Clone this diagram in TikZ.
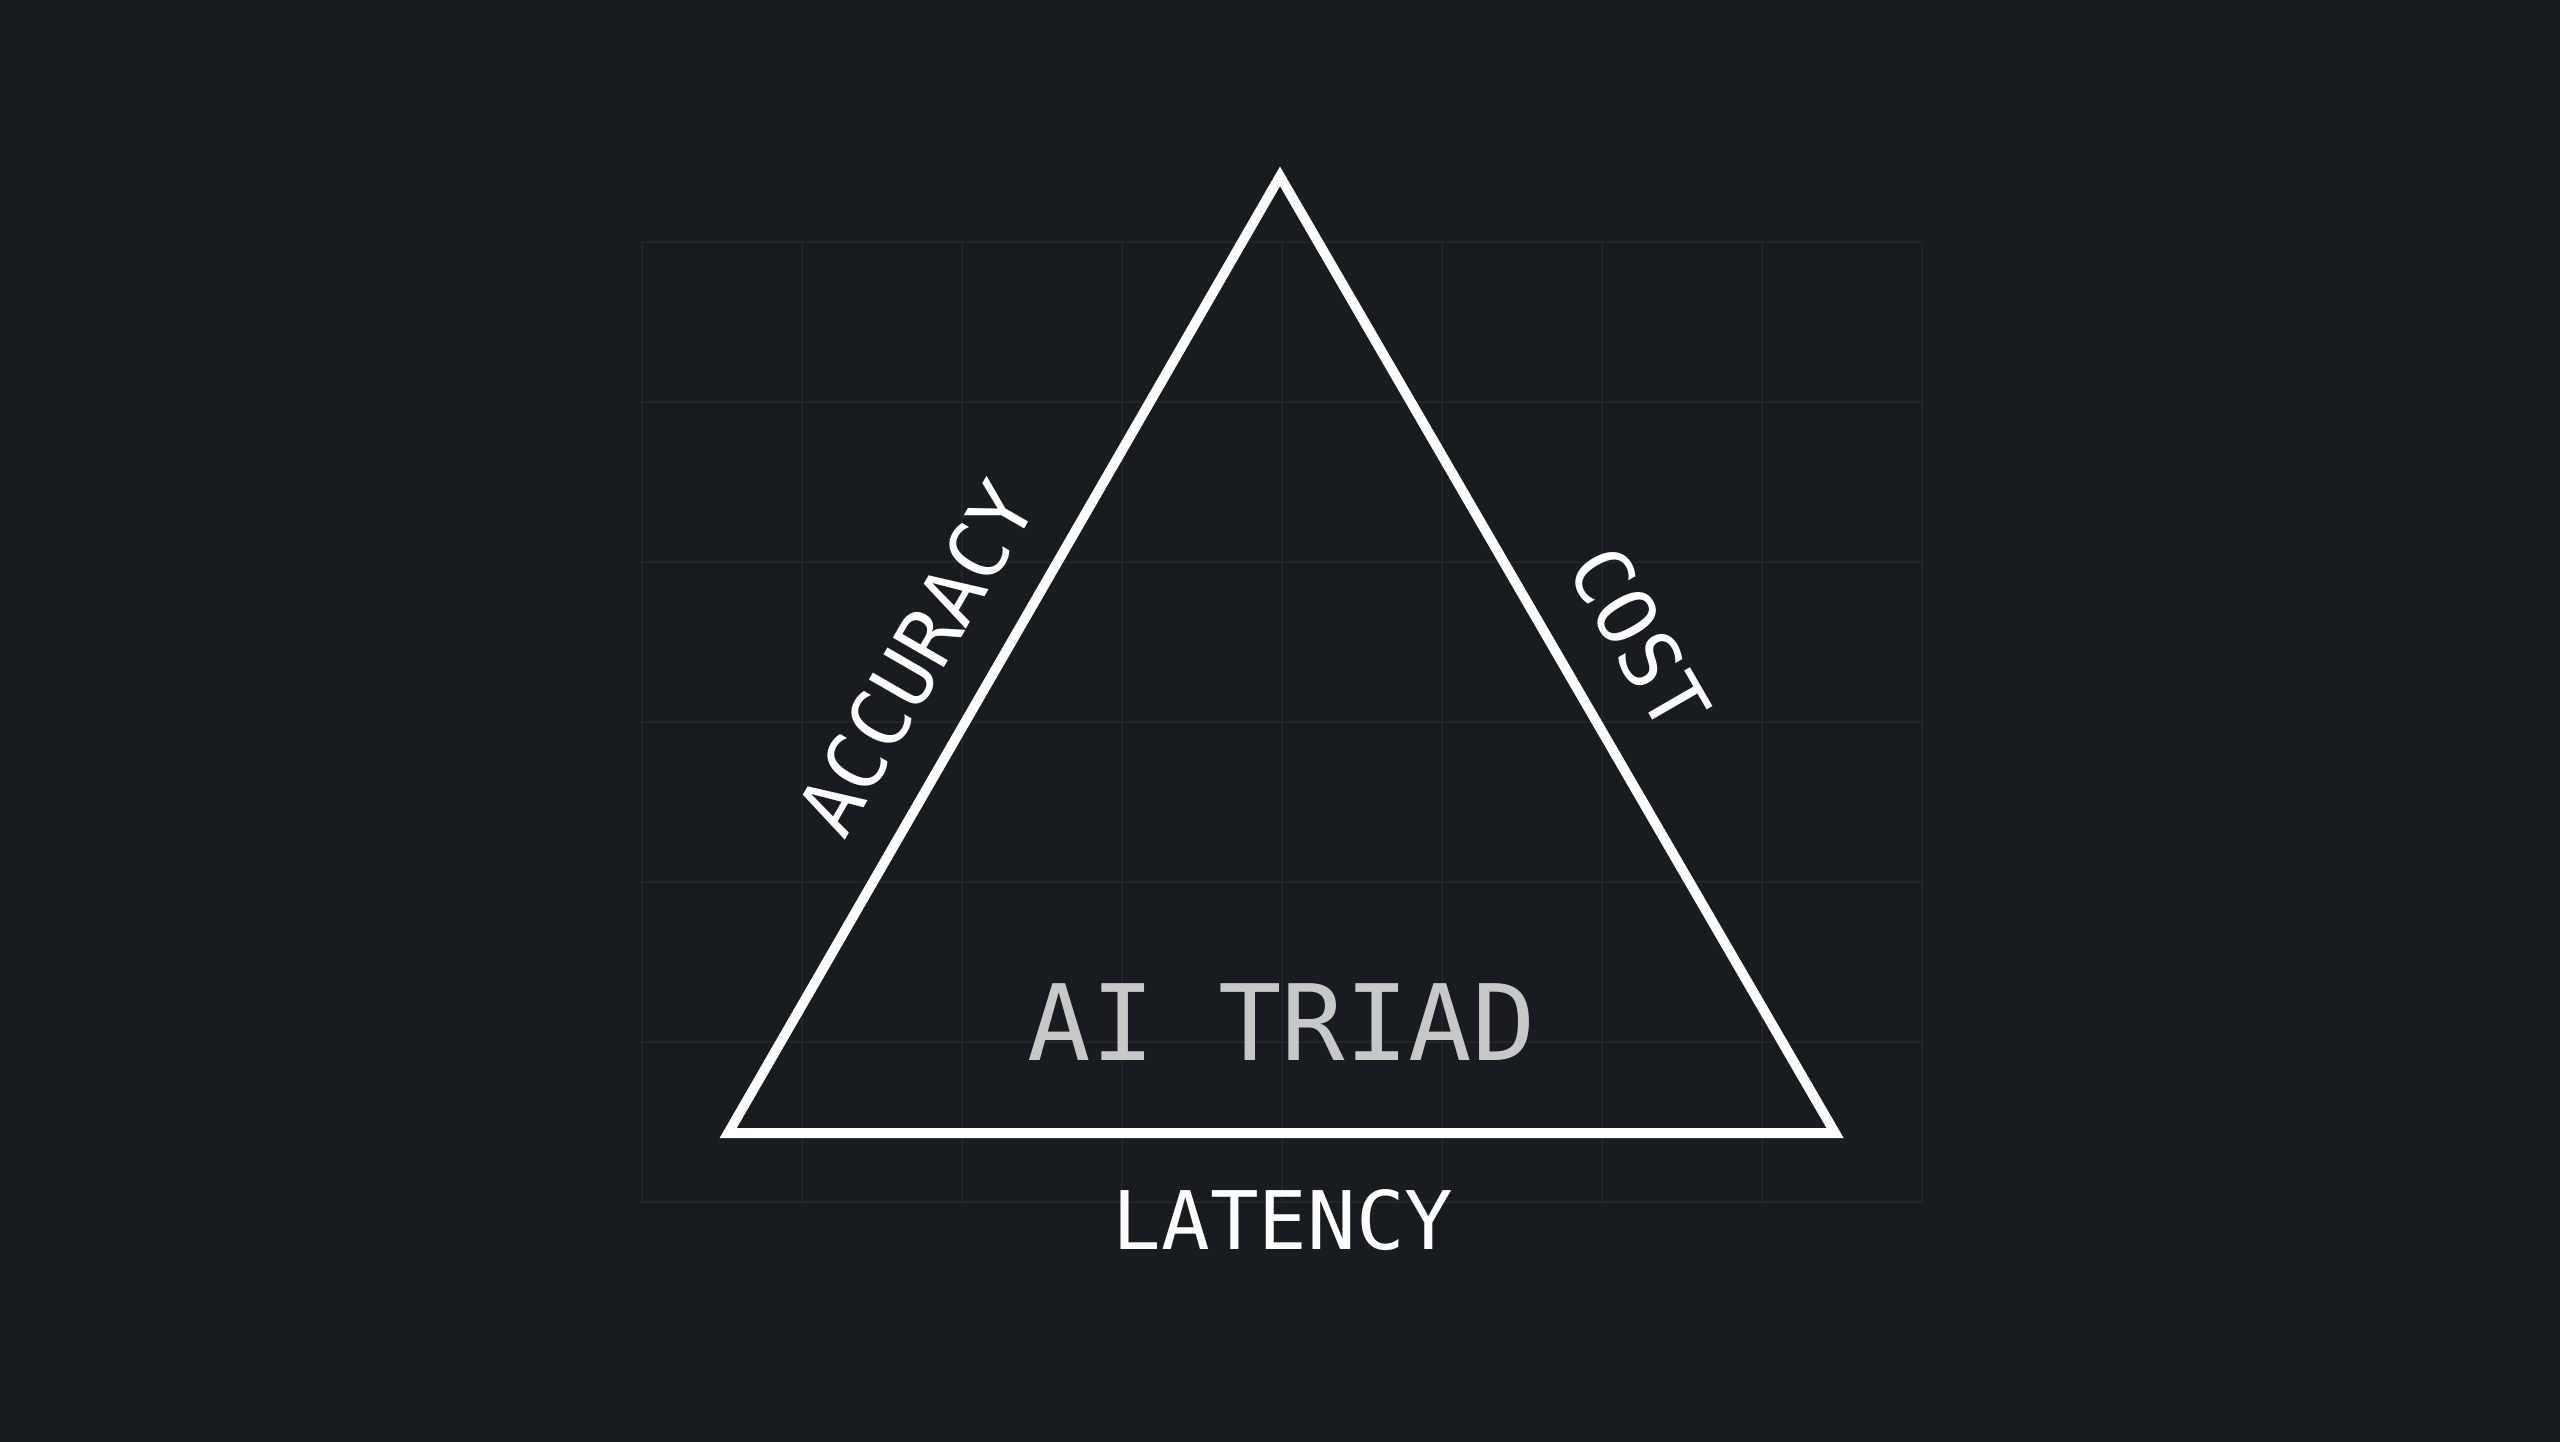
\documentclass[tikz,border=0pt]{standalone}
\usepackage{fontspec}
\setmonofont{DejaVu Sans Mono}
\usetikzlibrary{positioning}
\definecolor{bgdark}{HTML}{181B1F}
\definecolor{gridgray}{HTML}{21252A}
\definecolor{titlegray}{HTML}{C8C8C8}
\tikzset{
  gridline/.style={draw=gridgray, line width=0.6pt},
  sidelabel/.style={text=white, font=\ttfamily\fontsize{23}{23}\selectfont, inner sep=0pt},
}

\begin{document}
\begin{tikzpicture}[x=0.016327cm, y=-0.016327cm]

% Background
\fill[bgdark] (0,0) rectangle (1568,883);
\useasboundingbox (0,0) rectangle (1568,883);

% Faint grid behind the triangle
\foreach \x in {0,...,8}
{
    \draw[gridline] (393+98*\x,148) -- (393+98*\x,736);
}
\foreach \y in {0,...,6}
{
    \draw[gridline] (393,148+98*\y) -- (1177,148+98*\y);
}

% Triangle corners
\coordinate (apex) at (784,108);
\coordinate (left) at (446,694);
\coordinate (right) at (1124,694);
\draw[white, line width=2.8pt, line join=miter] (apex) -- (right) -- (left) -- cycle;

% Labels
\node[sidelabel, rotate=60] (accuracy) at (561,403) {ACCURACY};
\node[sidelabel, rotate=-60] (cost) at (1004,391) {COST};
\node[sidelabel] (latency) at (786,747) {LATENCY};
\node[text=titlegray, font=\ttfamily\fontsize{30}{30}\selectfont, inner sep=0pt] (title) at (785,626) {AI TRIAD};

\end{tikzpicture}
\end{document}
